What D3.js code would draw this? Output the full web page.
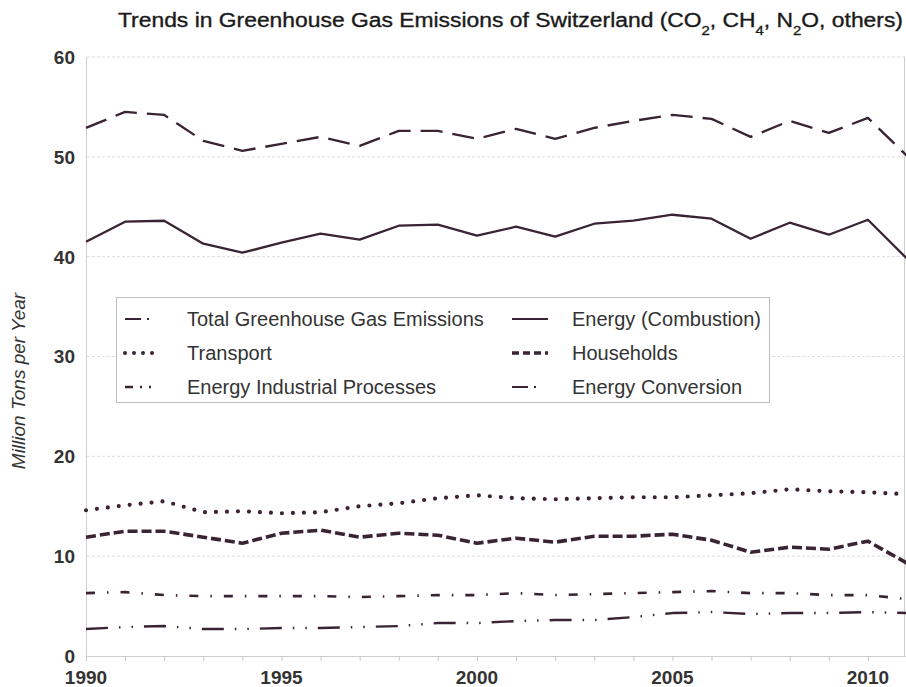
<!DOCTYPE html>
<html><head><meta charset="utf-8">
<script src="https://cdn.jsdelivr.net/npm/d3@7"></script>
<style>
html,body{margin:0;padding:0;background:#fff;}
svg{display:block;}
</style></head>
<body>
<svg id="chart" width="906" height="687"></svg>
<script>
const years = [1990,1991,1992,1993,1994,1995,1996,1997,1998,1999,2000,2001,2002,2003,2004,2005,2006,2007,2008,2009,2010,2011];
const totalGHG = [52.9,54.5,54.2,51.6,50.6,51.3,52.0,51.1,52.6,52.6,51.8,52.8,51.8,52.9,53.6,54.2,53.8,52.0,53.6,52.4,53.9,50.1];
const energyCombustion = [41.5,43.5,43.6,41.3,40.4,41.4,42.3,41.7,43.1,43.2,42.1,43.0,42.0,43.3,43.6,44.2,43.8,41.8,43.4,42.2,43.7,39.8];
const transport = [14.6,15.1,15.5,14.4,14.5,14.3,14.4,15.0,15.3,15.8,16.1,15.8,15.7,15.8,15.9,15.9,16.1,16.3,16.7,16.5,16.4,16.2];
const households = [11.9,12.5,12.5,11.9,11.3,12.3,12.6,11.9,12.3,12.1,11.3,11.8,11.4,12.0,12.0,12.2,11.6,10.4,10.9,10.7,11.5,9.3];
const energyConversion = [6.3,6.4,6.1,6.0,6.0,6.0,6.0,5.9,6.0,6.1,6.1,6.3,6.1,6.2,6.3,6.4,6.5,6.3,6.3,6.1,6.1,5.7];
const energyIndustrial = [2.7,2.9,3.0,2.7,2.7,2.8,2.8,2.9,3.0,3.3,3.3,3.5,3.6,3.6,3.9,4.3,4.4,4.2,4.3,4.3,4.4,4.3];
const yTicks = [0,10,20,30,40,50,60];
const xTickLabels = [1990,1995,2000,2005,2010];
const seriesNames = ["Total Greenhouse Gas Emissions","Energy (Combustion)","Transport","Households","Energy Industrial Processes","Energy Conversion"];

const LINE = "#3a2333";
const svg = d3.select("#chart");
const x = d3.scaleLinear().domain([1990, 2011]).range([86, 907]);
const y = d3.scaleLinear().domain([0, 60]).range([656, 57]);

// gridlines
svg.append("g").selectAll("line").data(yTicks.filter(v => v > 0)).join("line")
  .attr("x1", 87).attr("x2", 905).attr("y1", d => y(d)).attr("y2", d => y(d))
  .attr("stroke", "#dcdcdc").attr("stroke-width", 1).attr("stroke-dasharray", "3,2");

// plot frame: left axis, right border, bottom axis
svg.append("line").attr("x1", 86.5).attr("x2", 86.5).attr("y1", y(60)).attr("y2", y(0)).attr("stroke", "#cfcfcf");
svg.append("line").attr("x1", 904.5).attr("x2", 904.5).attr("y1", y(60)).attr("y2", y(0)).attr("stroke", "#cfcfcf");

const xAxis = d3.axisBottom(x).tickValues(years).tickSize(5).tickFormat("");
const gx = svg.append("g").attr("transform", `translate(0,${y(0)})`).call(xAxis);
gx.select(".domain").attr("stroke", "#cfcfcf");
gx.selectAll(".tick line").attr("stroke", "#c8c8c8");

const labelFont = "'Liberation Sans', Arial, sans-serif";
svg.append("g").selectAll("text").data(xTickLabels).join("text")
  .attr("x", d => x(d)).attr("y", 684).attr("text-anchor", "middle")
  .attr("font-family", labelFont).attr("font-weight", "bold").attr("font-size", 19)
  .attr("fill", "#333").text(d => d);

svg.append("g").selectAll("text").data(yTicks).join("text")
  .attr("x", 75).attr("y", d => y(d)).attr("dy", "0.36em").attr("text-anchor", "end")
  .attr("font-family", labelFont).attr("font-weight", "bold").attr("font-size", 19)
  .attr("fill", "#333").text(d => d);

// y-axis title
svg.append("text").attr("transform", "translate(25,381) rotate(-90)")
  .attr("text-anchor", "middle").attr("font-family", labelFont).attr("font-style", "italic")
  .attr("font-size", 19).attr("fill", "#333").text("Million Tons per Year");

// title
const title = svg.append("text").attr("x", 118).attr("y", 27)
  .attr("font-family", "'Liberation Sans Narrow', 'Arial Narrow', 'Liberation Sans', sans-serif")
  .attr("font-size", 20).attr("fill", "#1a1a1a").attr("stroke", "#1a1a1a").attr("stroke-width", 0.35);
const parts = [["Trends in Greenhouse Gas Emissions of Switzerland (CO",0],["2",1],[", CH",0],["4",1],[", N",0],["2",1],["O, others)",0]];
parts.forEach(([t, sub]) => {
  const ts = title.append("tspan").text(t);
  if (sub) ts.attr("font-size", 13).attr("baseline-shift", "sub");
});
const tw = title.node().getComputedTextLength();
if (Math.abs(tw - 785) > 4) title.attr("textLength", 785).attr("lengthAdjust", "spacingAndGlyphs");

// series
const series = [
  {name: seriesNames[0], values: totalGHG, dash: "22,10", width: 2.3, cap: "butt"},
  {name: seriesNames[1], values: energyCombustion, dash: null, width: 2.3, cap: "butt"},
  {name: seriesNames[2], values: transport, dash: "0,11", width: 4.2, cap: "round"},
  {name: seriesNames[3], values: households, dash: "10,4", width: 3.6, cap: "butt"},
  {name: seriesNames[4], values: energyIndustrial, dash: "22,11,1.5,11,1.5,11", width: 2.4, cap: "butt"},
  {name: seriesNames[5], values: energyConversion, dash: "9,12,1.5,12", width: 2.6, cap: "butt"}
];
const line = d3.line().x((d, i) => x(years[i])).y(d => y(d));
svg.append("defs").append("clipPath").attr("id", "plotclip").append("rect")
  .attr("x", 80).attr("y", 40).attr("width", 826).attr("height", 620);
const lg = svg.append("g").attr("clip-path", "url(#plotclip)");
series.forEach(s => {
  lg.append("path").datum(s.values).attr("d", line).attr("fill", "none")
    .attr("stroke", LINE).attr("stroke-width", s.width).attr("stroke-linecap", s.cap)
    .attr("stroke-linejoin", "round").attr("stroke-dasharray", s.dash);
});

// legend
const leg = svg.append("g");
leg.append("rect").attr("x", 116.5).attr("y", 297.5).attr("width", 653).attr("height", 105)
  .attr("fill", "#fff").attr("stroke", "#bdbdbd").attr("stroke-width", 1);
const legSym = [
  {dash: "16,6,2,20", width: 2.2, cap: "butt"},
  {dash: null, width: 2.2, cap: "butt"},
  {dash: "0,9", width: 4, cap: "round"},
  {dash: "7,4", width: 3.5, cap: "butt"},
  {dash: "8,7,2,7,2,20", width: 2.3, cap: "butt"},
  {dash: "16,6,2,20", width: 2.2, cap: "butt"}
];
const legItems = seriesNames.map((n, i) => ({name: n, col: i % 2, row: Math.floor(i / 2), sym: legSym[i]}));
legItems.forEach(it => {
  const sx = it.col === 0 ? 125 : 512;
  const tx = it.col === 0 ? 187 : 572;
  const cy = 319 + it.row * 34;
  leg.append("line").attr("x1", sx).attr("x2", sx + 36).attr("y1", cy).attr("y2", cy)
    .attr("stroke", LINE).attr("stroke-width", it.sym.width).attr("stroke-linecap", it.sym.cap)
    .attr("stroke-dasharray", it.sym.dash);
  leg.append("text").attr("x", tx).attr("y", cy).attr("dy", "0.36em")
    .attr("font-family", labelFont).attr("font-size", 20).attr("fill", "#333").text(it.name);
});
</script>
</body></html>
